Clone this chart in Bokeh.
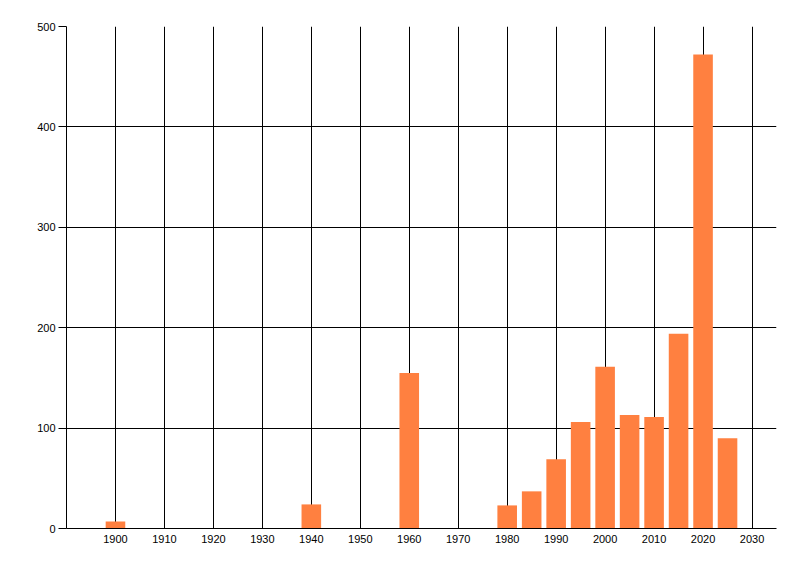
from bokeh.plotting import figure
from bokeh.models import FixedTicker, Range1d, ColumnDataSource
from bokeh.embed import file_html
from bokeh.resources import INLINE

years = [1900, 1940, 1960, 1980, 1985, 1990, 1995, 2000, 2005, 2010, 2015, 2020, 2025]
counts = [7, 24, 155, 23, 37, 69, 106, 161, 113, 111, 194, 472, 90]
x_ticks = [1900, 1910, 1920, 1930, 1940, 1950, 1960, 1970, 1980, 1990, 2000, 2010, 2020, 2030]
y_ticks = [0, 100, 200, 300, 400, 500]

src = ColumnDataSource(dict(x=years, top=counts))

p = figure(width=792, height=568, output_backend="svg", toolbar_location=None,
           x_range=Range1d(1890, 2035), y_range=Range1d(0, 500),
           min_border_left=66, min_border_right=16, min_border_top=26, min_border_bottom=40)
p.frame_width = 710
p.frame_height = 502

p.vbar(x="x", top="top", bottom=0, width=4, source=src, fill_color="#FF8040", line_color=None)

p.outline_line_color = None
p.background_fill_color = "white"
p.border_fill_color = "white"

for g in (p.xgrid[0], p.ygrid[0]):
    g.grid_line_color = "black"
    g.grid_line_width = 1
    g.grid_line_alpha = 1.0

p.xaxis.ticker = FixedTicker(ticks=x_ticks)
p.yaxis.ticker = FixedTicker(ticks=y_ticks)
p.xgrid[0].ticker = FixedTicker(ticks=x_ticks)
p.ygrid[0].ticker = FixedTicker(ticks=y_ticks)

for ax in (p.xaxis[0], p.yaxis[0]):
    ax.axis_line_color = "black"
    ax.axis_line_width = 1
    ax.minor_tick_line_color = None
    ax.major_label_text_font = "Liberation Sans"
    ax.major_label_text_font_size = "11px"
    ax.major_label_text_color = "black"

p.xaxis.major_tick_out = 0
p.xaxis.major_tick_in = 0
p.xaxis.major_label_standoff = 6
p.yaxis.major_tick_out = 8
p.yaxis.major_tick_in = 0
p.yaxis.major_tick_line_color = "black"
p.yaxis.major_label_standoff = 3

open("out.html", "w").write(file_html(p, INLINE))
